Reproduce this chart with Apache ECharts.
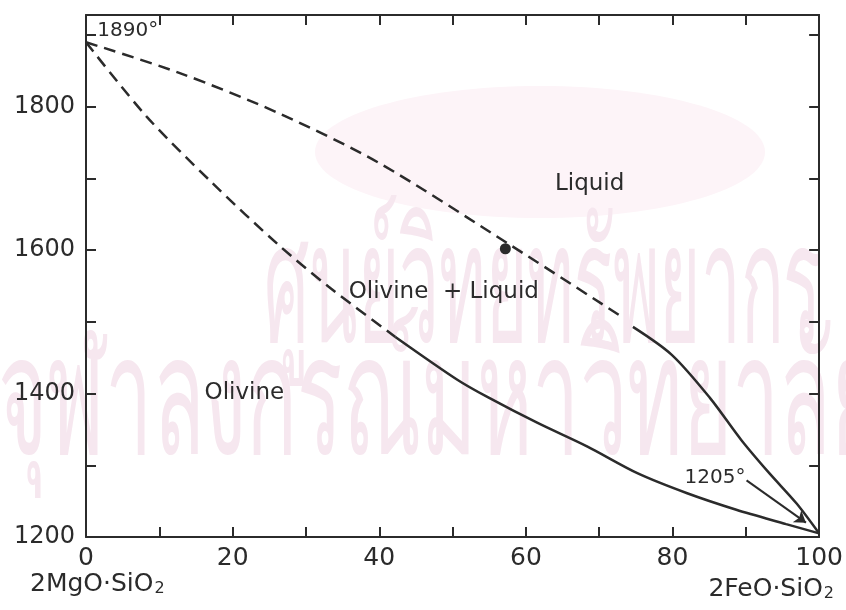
<!DOCTYPE html>
<html>
<head>
<meta charset="utf-8">
<script src="https://cdn.jsdelivr.net/npm/echarts@6/dist/echarts.min.js"></script>
<style>
  html, body { margin: 0; padding: 0; background: #fff; }
  #chart { width: 846px; height: 610px; }
</style>
</head>
<body>
<div id="chart"></div>
<script>
// liquidus (upper curve): dashed part then solid part
const liquidusDashed = [[0, 1890], [12.8, 1847], [26.3, 1791], [39.9, 1722], [57.9, 1607], [73.4, 1505]];
const liquidusSolid = [[74.6, 1493], [79.9, 1454], [85.1, 1394], [89.4, 1335], [93.2, 1289], [96.9, 1247], [100, 1205]];
// solidus (lower curve)
const solidusDashed = [[0, 1890], [8.3, 1786], [17.2, 1694], [26.3, 1607], [33.1, 1549], [42.2, 1479]];
const solidusSolid = [[42.2, 1479], [50.7, 1419], [54.8, 1395], [61.6, 1359], [68.4, 1326], [75.2, 1289], [82, 1261], [88.7, 1238], [95.5, 1218], [100, 1205]];
const dotPoint = [[57.2, 1602]];
const arrowCoords = [[90.1, 1279], [98.2, 1220]];
const xTickLabels = [0, 20, 40, 60, 80, 100];
const yTickLabels = [1200, 1400, 1600, 1800];
const regionLabels = [
  { name: 'Liquid', value: [68.7, 1692] },
  { name: 'Olivine  + Liquid', value: [48.8, 1542] },
  { name: 'Olivine', value: [21.6, 1401] }
];
const tempLabels = [
  { name: '1890°', value: [5.7, 1906] },
  { name: '1205°', value: [85.8, 1282] }
];

const ink = '#2b2b2b';
const font = 'DejaVu Sans';
const wm = '#f6e7ef';

const chart = echarts.init(document.getElementById('chart'));

const axisCommon = {
  axisLine: { show: true, onZero: false, lineStyle: { color: ink, width: 2 } },
  axisTick: { show: true, inside: true, length: 10, lineStyle: { color: ink, width: 2 } },
  splitLine: { show: false }
};

const curve = function (data, dashed) {
  return {
    type: 'line',
    data: data,
    smooth: 0.3,
    showSymbol: false,
    symbol: 'none',
    z: 5,
    lineStyle: { color: ink, width: 2.5, type: dashed ? [12, 7] : 'solid' },
    silent: true
  };
};

const sub = function (txt, x, y, anchor) {
  const el = {
    type: 'text', top: y,
    style: { text: '{a|' + txt + '}{s|2}', rich: {
      a: { fontSize: 25, fontFamily: font, fill: ink, lineHeight: 30, verticalAlign: 'bottom' },
      s: { fontSize: 16, fontFamily: font, fill: ink, lineHeight: 20, verticalAlign: 'bottom', padding: [9, 0, 0, 1] }
    } }
  };
  el[anchor] = x;
  return el;
};

const option = {
  backgroundColor: '#ffffff',
  animation: false,
  grid: { left: 86, right: 23, top: 15, bottom: 73 },
  graphic: [
    { type: 'ellipse', shape: { cx: 540, cy: 152, rx: 225, ry: 66 }, style: { fill: '#fdf4f8' }, z: -10 },
    { type: 'text', x: 264, y: 212, scaleX: 0.74, scaleY: 1.75, z: -9,
      style: { text: 'ศูนย์วิทยทรัพยากร', fontSize: 96, fill: wm, fontFamily: 'sans-serif' } },
    { type: 'text', x: -2, y: 324, scaleX: 0.88, scaleY: 1.75, z: -9,
      style: { text: 'จุฬาลงกรณ์มหาวิทยาลัย', fontSize: 96, fill: wm, fontFamily: 'sans-serif' } },
    sub('2MgO·SiO', 30, 572, 'left'),
    sub('2FeO·SiO', 12, 577, 'right')
  ],
  xAxis: [
    Object.assign({}, axisCommon, {
      type: 'value', position: 'bottom', min: 0, max: 100, interval: 10,
      axisLabel: {
        color: ink, fontSize: 25, fontFamily: font, margin: 9,
        formatter: function (v) { return xTickLabels.indexOf(v) >= 0 ? String(v) : ''; }
      }
    }),
    Object.assign({}, axisCommon, {
      type: 'value', position: 'top', min: 0, max: 100, interval: 10,
      axisLabel: { show: false }
    })
  ],
  yAxis: [
    Object.assign({}, axisCommon, {
      type: 'value', position: 'left', min: 1200, max: 1928, interval: 100,
      axisLabel: {
        color: ink, fontSize: 24, fontFamily: font, margin: 11,
        formatter: function (v) { return yTickLabels.indexOf(v) >= 0 ? String(v) : ''; }
      }
    }),
    Object.assign({}, axisCommon, {
      type: 'value', position: 'right', min: 1200, max: 1928, interval: 100,
      axisLabel: { show: false }
    })
  ],
  series: [
    curve(liquidusDashed, true),
    curve(liquidusSolid, false),
    curve(solidusDashed, true),
    curve(solidusSolid, false),
    {
      type: 'scatter', data: dotPoint, symbol: 'circle', symbolSize: 11, z: 6,
      itemStyle: { color: ink, opacity: 1 }, silent: true
    },
    {
      type: 'lines', coordinateSystem: 'cartesian2d', z: 6,
      symbol: ['none', 'arrow'], symbolSize: 11,
      lineStyle: { color: ink, width: 2, opacity: 1 },
      data: [{ coords: arrowCoords }], silent: true
    },
    {
      type: 'scatter', data: regionLabels, symbolSize: 0, z: 7, silent: true,
      itemStyle: { opacity: 1 },
      label: { show: true, position: 'inside', formatter: '{b}', color: ink, fontSize: 23, fontFamily: font }
    },
    {
      type: 'scatter', data: tempLabels, symbolSize: 0, z: 7, silent: true,
      itemStyle: { opacity: 1 },
      label: { show: true, position: 'inside', formatter: '{b}', color: ink, fontSize: 20, fontFamily: font }
    }
  ]
};

chart.setOption(option);
</script>
</body>
</html>
